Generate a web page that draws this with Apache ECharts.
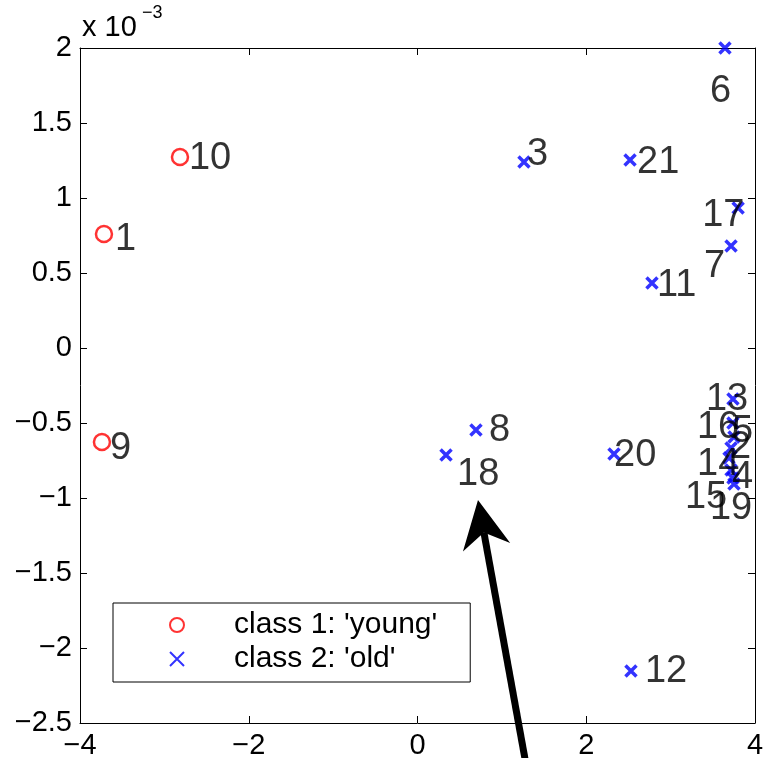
<!DOCTYPE html>
<html><head><meta charset="utf-8">
<script src="https://cdn.jsdelivr.net/npm/echarts@6/dist/echarts.min.js"></script>
<style>html,body{margin:0;padding:0;background:#fff}#c{width:763px;height:758px}</style>
</head><body><div id="c"></div><script>
// ---- data ----
const youngNames = ['1', '9', '10'];
const youngX = [-3.716, -3.74, -2.815];
const youngY = [0.00076, -0.000627, 0.001273];

const oldNames = ['2', '3', '4', '5', '6', '7', '8', '11', '12', '13', '14', '15', '16', '17', '18', '19', '20', '21'];
const oldX = [3.716, 1.262, 3.716, 3.751, 3.644, 3.716, 0.693, 2.779, 2.53, 3.739, 3.692, 3.739, 3.739, 3.8, 0.338, 3.751, 2.329, 2.519];
const oldY = [-0.000667, 0.00124, -0.000813, -0.000593, 0.002, 0.00068, -0.000547, 0.000433, -0.002153, -0.00034, -0.000733, -0.000867, -0.0005, 0.000933, -0.000713, -0.000907, -0.000707, 0.001253];

const seriesNames = ["class 1: 'young'", "class 2: 'old'"];
const arrowTail = [1.298, -0.002813];
const arrowTip = [0.717, -0.001013];

// ---- label placement (pixel offsets from marker) ----
const labelOffsets = {
  '1': [11, 6], '9': [8, 6], '10': [9, 1],
  '3': [3, -7], '21': [7, 2], '11': [5, 2], '8': [13, 0], '18': [11, 20],
  '20': [0, 1], '12': [14, 1], '6': [-15, 44], '17': [-36, 7], '7': [-27, 21],
  '13': [-27, 1], '16': [-36, 5], '5': [-2, -5], '2': [-1, -1], '14': [-32, 7],
  '4': [1, 8], '15': [-48, 19], '19': [-24, 24]
};

const FONT = "'Liberation Sans', Arial, Helvetica, sans-serif";
function mkData(xs, ys, names) {
  return xs.map((x, i) => ({
    value: [x, ys[i]], name: names[i],
    label: { offset: labelOffsets[names[i]] || [10, 0] }
  }));
}
const minusFmt = s => String(s).replace('-', '\u2212');

const axisCommon = {
  axisLine: { show: true, onZero: false, lineStyle: { color: '#000', width: 1 } },
  axisTick: { show: true, inside: true, length: 7, lineStyle: { color: '#000', width: 1 } },
  splitLine: { show: false }
};
const labelStyle = {
  show: true, position: 'inside', align: 'left', verticalAlign: 'middle',
  formatter: '{b}', fontSize: 38, color: '#000', fontFamily: FONT
};

const chart = echarts.init(document.getElementById('c'), null, { renderer: 'canvas' });
chart.setOption({
  animation: false,
  backgroundColor: '#fff',
  textStyle: { fontFamily: FONT },
  grid: { left: 80, top: 48, right: 8, bottom: 35, containLabel: false, outerBoundsMode: 'none' },
  xAxis: [
    Object.assign({ type: 'value', min: -4, max: 4, interval: 2, position: 'bottom',
      axisLabel: { fontSize: 29, color: '#000', margin: 8, fontFamily: FONT, formatter: v => minusFmt(v) } }, axisCommon),
    Object.assign({ type: 'value', min: -4, max: 4, interval: 2, position: 'top',
      axisLabel: { show: false } }, axisCommon)
  ],
  yAxis: [
    Object.assign({ type: 'value', min: -0.0025, max: 0.002, interval: 0.0005, position: 'left',
      axisLabel: { fontSize: 29, color: '#000', margin: 8, fontFamily: FONT,
        formatter: v => minusFmt(Math.round(v * 10000) / 10) } }, axisCommon),
    Object.assign({ type: 'value', min: -0.0025, max: 0.002, interval: 0.0005, position: 'right',
      axisLabel: { show: false } }, axisCommon)
  ],
  legend: {
    orient: 'vertical', left: 113, top: 603,
    padding: [7, 33, 8, 56], itemWidth: 104, itemHeight: 14, itemGap: 4,
    borderColor: '#000', borderWidth: 1, backgroundColor: '#fff',
    textStyle: { fontSize: 30, color: '#000', fontFamily: FONT },
    data: seriesNames
  },
  graphic: [
    { type: 'text', left: 82, top: 13, style: { text: 'x 10', fontSize: 29, fill: '#000', fontFamily: FONT } },
    { type: 'text', left: 142, top: 4, style: { text: '\u22123', fontSize: 18, fill: '#000', fontFamily: FONT } }
  ],
  series: [
    {
      name: seriesNames[0], type: 'scatter', clip: false, xAxisIndex: 0, yAxisIndex: 0,
      symbol: 'circle', symbolSize: 16,
      itemStyle: { color: 'rgba(0,0,0,0)', borderColor: '#ff0000', borderWidth: 2.5 },
      label: labelStyle,
      data: mkData(youngX, youngY, youngNames)
    },
    {
      name: seriesNames[1], type: 'scatter', clip: false, xAxisIndex: 0, yAxisIndex: 0,
      symbol: 'path://M0,0L10,10M0,10L10,0', symbolSize: 11,
      itemStyle: { color: 'rgba(0,0,0,0)', borderColor: '#0000ff', borderWidth: 3.5 },
      label: labelStyle,
      data: mkData(oldX, oldY, oldNames)
    },
    {
      type: 'custom', clip: false, silent: true, z: 10, xAxisIndex: 0, yAxisIndex: 0,
      data: [[arrowTail[0], arrowTail[1], arrowTip[0], arrowTip[1]]],
      encode: { x: [0, 2], y: [1, 3] },
      renderItem: function (params, api) {
        const p0 = api.coord([api.value(0), api.value(1)]);
        const p1 = api.coord([api.value(2), api.value(3)]);
        const dx = p1[0] - p0[0], dy = p1[1] - p0[1];
        const len = Math.hypot(dx, dy);
        const ux = dx / len, uy = dy / len, nx = -uy, ny = ux;
        const headLen = 48, headHalf = 24, notch = 33;
        const base = [p1[0] - ux * headLen, p1[1] - uy * headLen];
        const np = [p1[0] - ux * notch, p1[1] - uy * notch];
        return {
          type: 'group', children: [
            { type: 'line', shape: { x1: p0[0], y1: p0[1], x2: np[0], y2: np[1] }, style: { stroke: '#000', lineWidth: 7 } },
            { type: 'polygon', shape: { points: [p1, [base[0] + nx * headHalf, base[1] + ny * headHalf], np, [base[0] - nx * headHalf, base[1] - ny * headHalf]] }, style: { fill: '#000' } }
          ]
        };
      }
    }
  ]
});
</script></body></html>
